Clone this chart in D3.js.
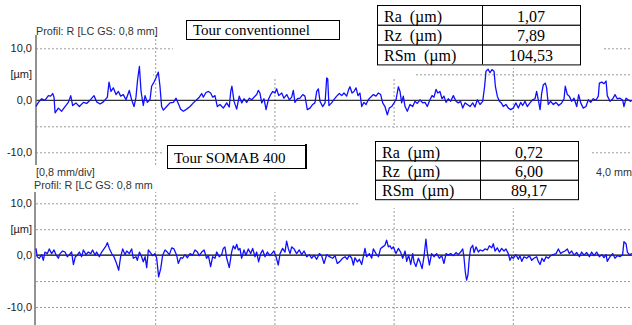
<!DOCTYPE html>
<html>
<head>
<meta charset="utf-8">
<script src="https://cdn.jsdelivr.net/npm/d3@7"></script>
<style>
  body { margin: 0; background: #fff; }
  svg { display: block; }
  .sans { font-family: "Liberation Sans", Arial, sans-serif; }
  .serif { font-family: "Liberation Serif", "Times New Roman", serif; }
</style>
</head>
<body>
<div id="chart"></div>
<script>
// roughness profiles, x in mm along the trace, y in µm
const profileConventionnel = [
  [0.000,-1.2],[0.016,-0.4],[0.038,0.3],[0.060,0.0],[0.083,0.9],[0.098,0.8],[0.112,1.3],[0.121,0.6],[0.128,-2.4],[0.150,-1.5],
  [0.172,-2.1],[0.195,-1.2],[0.217,-0.4],[0.233,0.9],[0.246,-1.0],[0.268,-0.5],[0.291,-1.2],[0.318,-0.4],[0.340,-0.6],[0.362,0.0],
  [0.389,0.9],[0.407,-0.3],[0.430,-0.7],[0.452,-0.3],[0.479,0.6],[0.490,3.5],[0.503,1.7],[0.519,2.4],[0.537,1.1],[0.553,1.7],
  [0.568,0.8],[0.586,1.1],[0.604,0.1],[0.626,1.9],[0.642,0.1],[0.658,-1.2],[0.671,0.6],[0.682,4.0],[0.694,6.5],[0.705,1.7],
  [0.720,-1.0],[0.732,0.9],[0.747,-0.4],[0.765,0.1],[0.776,2.7],[0.792,3.5],[0.805,4.3],[0.821,5.4],[0.832,2.7],[0.843,-1.2],
  [0.855,-1.9],[0.877,-1.2],[0.899,-0.5],[0.922,-0.4],[0.940,0.4],[0.955,-0.6],[0.971,-1.7],[0.989,-2.1],[1.011,-1.7],[1.034,-1.2],
  [1.056,-0.5],[1.078,0.1],[1.096,0.6],[1.112,1.3],[1.123,0.6],[1.141,1.5],[1.157,1.7],[1.172,1.4],[1.186,0.6],[1.201,0.9],
  [1.217,-1.2],[1.235,-0.8],[1.257,-1.5],[1.280,-0.5],[1.297,-1.3],[1.307,1.7],[1.315,2.7],[1.329,-0.2],[1.347,-1.7],[1.364,0.8],
  [1.381,-0.5],[1.396,0.3],[1.414,-0.4],[1.432,0.4],[1.448,0.1],[1.463,0.6],[1.481,1.1],[1.492,1.9],[1.503,1.4],[1.515,-0.5],
  [1.530,0.3],[1.544,-1.8],[1.559,0.1],[1.575,1.1],[1.589,1.7],[1.604,1.4],[1.615,2.2],[1.629,0.9],[1.649,1.4],[1.664,0.4],
  [1.683,1.1],[1.700,0.1],[1.716,0.6],[1.727,1.9],[1.738,-0.4],[1.754,0.3],[1.772,0.4],[1.790,1.1],[1.805,0.8],[1.821,-1.8],
  [1.839,-1.5],[1.857,-0.8],[1.872,-0.5],[1.884,1.7],[1.895,2.2],[1.906,-0.2],[1.924,-1.2],[1.940,-0.5],[1.951,4.3],[1.958,4.1],
  [1.966,-1.0],[1.984,-0.5],[1.995,0.0],[2.018,0.8],[2.036,1.3],[2.052,0.9],[2.067,1.4],[2.085,0.8],[2.099,2.1],[2.107,2.6],
  [2.121,1.4],[2.134,1.7],[2.148,2.4],[2.161,0.9],[2.174,1.4],[2.186,-1.2],[2.201,-0.4],[2.215,-0.8],[2.230,0.1],[2.246,0.6],
  [2.264,1.1],[2.282,0.8],[2.297,1.4],[2.313,1.1],[2.327,-0.5],[2.342,-1.2],[2.358,-2.8],[2.371,-1.5],[2.387,-1.2],[2.403,-0.5],
  [2.416,0.1],[2.432,2.6],[2.443,1.7],[2.454,-0.5],[2.465,0.8],[2.477,-1.2],[2.492,-2.1],[2.510,-0.8],[2.528,-1.2],[2.544,-0.2],
  [2.559,-0.6],[2.577,0.1],[2.595,-0.5],[2.611,-0.4],[2.626,-1.2],[2.644,0.1],[2.658,0.9],[2.671,0.6],[2.685,2.1],[2.696,1.4],
  [2.711,1.7],[2.725,0.3],[2.738,0.8],[2.752,-0.4],[2.767,0.3],[2.783,-0.2],[2.801,0.9],[2.819,-0.2],[2.834,-0.5],[2.850,-0.2],
  [2.864,-1.5],[2.879,-0.5],[2.895,-0.8],[2.913,-1.2],[2.931,-0.5],[2.946,-1.3],[2.962,0.1],[2.980,-0.8],[2.998,-0.2],[3.011,2.7],
  [3.020,5.6],[3.034,6.0],[3.047,5.3],[3.060,5.9],[3.074,5.6],[3.083,2.7],[3.096,0.8],[3.110,-0.2],[3.123,-0.5],[3.136,-1.2],
  [3.154,-0.8],[3.170,-1.5],[3.186,-1.8],[3.203,-1.5],[3.221,-0.5],[3.237,-1.5],[3.253,-0.4],[3.266,-1.0],[3.282,-0.2],[3.297,-1.2],
  [3.315,-0.5],[3.333,0.1],[3.349,0.3],[3.360,1.7],[3.371,0.1],[3.383,-1.8],[3.394,1.4],[3.405,3.0],[3.418,3.3],[3.427,2.4],
  [3.438,-0.8],[3.454,-0.2],[3.472,-0.8],[3.490,-0.4],[3.508,-1.0],[3.528,-0.5],[3.544,0.3],[3.552,2.7],[3.566,1.1],[3.579,0.8],
  [3.595,-0.2],[3.611,0.4],[3.629,-1.2],[3.642,1.1],[3.656,-0.5],[3.673,-1.5],[3.691,-1.2],[3.707,0.1],[3.723,-0.4],[3.740,0.3],
  [3.758,0.0],[3.774,0.8],[3.781,3.3],[3.797,3.5],[3.812,3.2],[3.826,3.7],[3.834,0.9],[3.852,-0.2],[3.871,0.3],[3.886,1.1],
  [3.901,0.3],[3.919,0.4],[3.938,0.0],[3.946,-1.2],[3.960,0.4],[3.975,0.1],[3.991,-0.2],[4.000,0.0]
];

const profileSomab = [
  [0.000,1.3],[0.008,-0.3],[0.022,-0.6],[0.038,0.1],[0.049,-1.0],[0.060,0.6],[0.076,0.3],[0.089,1.2],[0.105,0.3],[0.121,1.0],
  [0.134,0.1],[0.150,-0.6],[0.161,0.3],[0.179,0.8],[0.195,0.6],[0.210,-0.3],[0.224,0.1],[0.239,0.6],[0.251,-1.8],[0.264,-0.3],
  [0.277,0.0],[0.291,0.6],[0.306,-0.3],[0.318,1.0],[0.336,0.1],[0.351,0.6],[0.367,0.3],[0.380,1.0],[0.396,0.0],[0.407,0.6],
  [0.425,-0.3],[0.441,0.6],[0.456,1.2],[0.470,1.8],[0.479,2.4],[0.492,1.3],[0.508,0.3],[0.523,-0.3],[0.537,-1.3],[0.555,-2.9],
  [0.568,-0.3],[0.582,1.2],[0.597,0.1],[0.609,0.8],[0.626,0.3],[0.642,1.2],[0.653,-0.6],[0.671,-0.3],[0.680,-1.0],[0.694,0.6],
  [0.709,-0.3],[0.720,-1.3],[0.732,-0.3],[0.743,-2.4],[0.754,1.0],[0.765,0.6],[0.783,-0.1],[0.799,0.3],[0.810,-0.6],[0.823,-4.2],
  [0.837,-2.6],[0.850,0.0],[0.866,1.0],[0.881,0.6],[0.895,0.1],[0.911,1.4],[0.926,1.2],[0.944,0.0],[0.955,-1.6],[0.971,-0.5],
  [0.984,-0.6],[1.000,0.1],[1.016,-0.5],[1.034,0.3],[1.051,0.0],[1.067,1.0],[1.083,0.6],[1.096,-0.1],[1.112,0.6],[1.128,1.0],
  [1.145,-0.6],[1.157,-0.1],[1.172,-2.2],[1.186,-0.3],[1.201,-0.6],[1.213,0.6],[1.230,-0.3],[1.246,0.1],[1.257,1.3],[1.268,1.6],
  [1.280,-0.6],[1.297,-2.4],[1.313,0.6],[1.324,1.8],[1.336,1.2],[1.347,2.1],[1.358,1.0],[1.369,1.3],[1.380,-0.6],[1.396,1.0],
  [1.409,0.0],[1.425,1.2],[1.441,0.3],[1.454,1.3],[1.470,-0.3],[1.481,0.6],[1.494,-1.3],[1.508,0.3],[1.521,1.0],[1.537,-0.3],
  [1.553,0.6],[1.570,-0.1],[1.582,0.3],[1.597,0.8],[1.611,-0.3],[1.626,-1.9],[1.638,0.3],[1.655,1.3],[1.671,0.6],[1.682,2.7],
  [1.694,1.2],[1.705,0.3],[1.716,1.6],[1.732,1.2],[1.749,0.3],[1.767,1.0],[1.783,0.1],[1.799,0.8],[1.817,-0.3],[1.834,0.1],
  [1.850,-0.6],[1.866,0.0],[1.884,-0.8],[1.902,0.3],[1.917,-0.1],[1.933,-1.6],[1.951,0.1],[1.969,-0.3],[1.991,-0.6],[2.007,-0.1],
  [2.022,-1.6],[2.040,-1.2],[2.058,-0.6],[2.074,-0.3],[2.089,-0.8],[2.103,0.0],[2.119,-0.6],[2.130,-1.9],[2.141,-0.5],[2.157,-1.3],
  [2.170,-0.8],[2.186,-1.8],[2.197,-0.3],[2.208,1.3],[2.219,-0.3],[2.237,0.3],[2.253,-0.6],[2.264,1.2],[2.282,0.3],[2.298,-0.3],
  [2.313,1.3],[2.327,1.6],[2.342,1.9],[2.353,2.9],[2.365,1.6],[2.376,1.8],[2.387,1.2],[2.398,1.6],[2.416,0.3],[2.432,1.3],
  [2.447,0.6],[2.461,-0.6],[2.477,0.8],[2.488,-1.2],[2.501,0.0],[2.515,-1.8],[2.528,0.3],[2.537,-1.3],[2.550,-2.2],[2.566,-0.6],
  [2.577,-1.3],[2.591,-2.6],[2.604,-0.3],[2.617,3.1],[2.626,0.6],[2.640,-1.9],[2.655,0.3],[2.671,-0.3],[2.689,0.3],[2.707,-0.6],
  [2.723,-0.1],[2.738,-1.6],[2.752,0.3],[2.767,0.0],[2.783,0.3],[2.801,-0.1],[2.819,0.5],[2.834,0.1],[2.850,0.6],[2.864,1.2],
  [2.872,-0.3],[2.881,-3.2],[2.890,-4.8],[2.899,-3.8],[2.908,-0.6],[2.917,1.3],[2.931,1.9],[2.940,0.5],[2.953,1.6],[2.969,0.6],
  [2.980,1.0],[2.998,0.8],[3.013,1.2],[3.029,1.0],[3.043,1.8],[3.058,1.4],[3.069,2.2],[3.081,0.8],[3.096,1.4],[3.110,0.6],
  [3.125,1.3],[3.141,0.8],[3.154,1.2],[3.170,0.3],[3.181,-1.0],[3.192,-0.3],[3.203,-0.6],[3.221,0.1],[3.237,-0.8],[3.248,-0.1],
  [3.260,-1.2],[3.275,-0.3],[3.293,-0.6],[3.311,-0.1],[3.327,-1.0],[3.342,-0.6],[3.360,-0.3],[3.371,-1.2],[3.383,-1.8],[3.396,-0.6],
  [3.409,-1.2],[3.423,-0.3],[3.438,-0.6],[3.454,-0.1],[3.472,0.1],[3.490,0.3],[3.506,1.2],[3.521,0.3],[3.535,0.6],[3.550,0.8],
  [3.566,1.2],[3.579,0.3],[3.595,0.8],[3.611,0.0],[3.629,0.5],[3.647,-0.3],[3.662,0.6],[3.678,0.0],[3.696,0.5],[3.714,-0.3],
  [3.729,0.6],[3.745,-0.1],[3.763,0.6],[3.781,-0.3],[3.797,0.1],[3.812,-0.5],[3.826,0.1],[3.834,-1.2],[3.852,-0.3],[3.870,0.3],
  [3.886,-0.6],[3.902,-0.1],[3.919,-0.3],[3.937,0.1],[3.946,2.6],[3.960,2.2],[3.969,0.6],[3.982,0.1],[4.000,0.3]
];

const yTickValues = [10, 5, 0, -10];
const yTickLabels = ["10,0", "[µm]", "0,0", "-10,0"];
const yGridValues = [10, 5, -5, -10];
const xGridValues = [0.8, 1.6, 2.4, 3.2];
const tableLabels = ["Ra  (µm)", "Rz  (µm)", "RSm  (µm)"];
const valuesConventionnel = ["1,07", "7,89", "104,53"];
const valuesSomab = ["0,72", "6,00", "89,17"];

const width = 632, height = 325;
const left = 36, right = 632;

const svg = d3
  .select("#chart")
  .append("svg")
  .attr("width", width)
  .attr("height", height);

svg.append("rect").attr("width", width).attr("height", height).attr("fill", "#fff");

const x = d3.scaleLinear().domain([0, 4]).range([left, right]);

// two stacked panels: plot top/bottom and where -10 / +10 land
const panels = [
  { data: profileConventionnel, top: 35, bottom: 165, y0: 152.3, y1: 48.3, axisX: 36, zeroColor: "#333" },
  { data: profileSomab, top: 192, bottom: 325, y0: 307, y1: 203.3, axisX: 35, zeroColor: "#000" }
];

// white areas behind the text boxes and tables, they hide the grid
const masks = [
  [173, 0, 243, 78], [37, 72, 116, 6], [157, 72, 16, 6],
  [377, 0, 226, 68],
  [358, 128, 234, 80], [580, 160, 52, 48],
  [163, 142, 195, 48]
];

const layers = panels.map(p => {
  const y = d3.scaleLinear().domain([-10, 10]).range([p.y0, p.y1]);
  const g = svg.append("g");

  // horizontal grid
  g.append("g")
    .attr("transform", "translate(" + left + ",0)")
    .call(d3.axisLeft(y).tickValues(yGridValues).tickSize(-(right - left)).tickFormat(""))
    .call(s => s.select(".domain").remove())
    .selectAll("line")
    .attr("stroke", "#9a9a9a")
    .attr("stroke-dasharray", "2,2");

  // vertical grid
  g.append("g")
    .attr("transform", "translate(0," + p.bottom + ")")
    .call(d3.axisBottom(x).tickValues(xGridValues).tickSize(-(p.bottom - p.top)).tickFormat(""))
    .call(s => s.select(".domain").remove())
    .selectAll("line")
    .attr("stroke", "#9a9a9a")
    .attr("stroke-dasharray", "2,2");

  return { p, y };
});

svg
  .selectAll(".mask")
  .data(masks)
  .enter()
  .append("rect")
  .attr("class", "mask")
  .attr("x", d => d[0])
  .attr("y", d => d[1])
  .attr("width", d => d[2])
  .attr("height", d => d[3])
  .attr("fill", "#fff");

const line = y => d3.line().x(d => x(d[0])).y(d => y(d[1]));

layers.forEach(({ p, y }) => {
  const g = svg.append("g");

  // zero line
  g.append("line")
    .attr("x1", left)
    .attr("x2", right)
    .attr("y1", y(0))
    .attr("y2", y(0))
    .attr("stroke", p.zeroColor)
    .attr("stroke-width", 1.2);

  // axis line
  g.append("line")
    .attr("x1", p.axisX)
    .attr("x2", p.axisX)
    .attr("y1", p.top)
    .attr("y2", p.bottom)
    .attr("stroke", "#777")
    .attr("stroke-width", 1.6);

  g.append("path")
    .datum(p.data)
    .attr("fill", "none")
    .attr("stroke", "#1010ff")
    .attr("stroke-width", 1.3)
    .attr("stroke-linejoin", "round")
    .attr("d", line(y));

  g.append("g")
    .attr("class", "sans")
    .attr("transform", "translate(" + left + ",0)")
    .call(d3.axisLeft(y).tickValues(yTickValues).tickSize(0).tickPadding(4)
      .tickFormat((d, i) => yTickLabels[i]))
    .call(s => s.select(".domain").remove())
    .selectAll("text")
    .attr("fill", "#222")
    .style("font-size", "11px");
});

// small labels
const labels = [
  { t: "Profil: R [LC GS: 0,8 mm]", x: 36, y: 35 },
  { t: "[0,8 mm/div]", x: 36, y: 176 },
  { t: "4,0 mm", x: 596, y: 175.5 },
  { t: "Profil: R [LC GS: 0,8 mm", x: 34, y: 189 }
];
svg
  .selectAll(".lbl")
  .data(labels)
  .enter()
  .append("text")
  .attr("class", "lbl sans")
  .attr("x", d => d.x)
  .attr("y", d => d.y)
  .attr("fill", "#333")
  .style("font-size", "10.8px")
  .text(d => d.t);

// title boxes
function titleBox(text, bx, by, bw, bh, tx, ty) {
  svg.append("rect")
    .attr("x", bx + 0.5).attr("y", by + 0.5)
    .attr("width", bw).attr("height", bh)
    .attr("fill", "#fff").attr("stroke", "#000");
  svg.append("text")
    .attr("class", "serif")
    .attr("x", tx).attr("y", ty)
    .style("font-size", "15px")
    .attr("fill", "#000")
    .text(text);
}
titleBox("Tour conventionnel", 186, 20, 153, 19, 193, 35);
titleBox("Tour SOMAB 400", 167, 145, 139, 23, 174, 162.5);
svg.append("line")
  .attr("x1", 306).attr("x2", 306).attr("y1", 144).attr("y2", 168.5)
  .attr("stroke", "#000").attr("stroke-width", 2);

// parameter tables
function paramTable(values, tx, ty, col, tw, rh) {
  const g = svg.append("g").attr("class", "serif");
  g.selectAll("rect")
    .data(values)
    .enter()
    .append("rect")
    .attr("x", tx + 0.5)
    .attr("y", (d, i) => ty + i * rh + 0.5)
    .attr("width", tw)
    .attr("height", rh)
    .attr("fill", "#fff")
    .attr("stroke", "#000");
  g.append("line")
    .attr("x1", col + 0.5).attr("x2", col + 0.5)
    .attr("y1", ty).attr("y2", ty + rh * values.length)
    .attr("stroke", "#000");
  g.selectAll(".lab")
    .data(tableLabels)
    .enter()
    .append("text")
    .attr("x", tx + 7)
    .attr("y", (d, i) => ty + i * rh + 16.6)
    .style("font-size", "16px")
    .style("white-space", "pre")
    .text(d => d);
  g.selectAll(".val")
    .data(values)
    .enter()
    .append("text")
    .attr("x", (col + tx + tw) / 2)
    .attr("y", (d, i) => ty + i * rh + 16.6)
    .attr("text-anchor", "middle")
    .style("font-size", "16px")
    .text(d => d);
}
paramTable(valuesConventionnel, 377, 5, 482, 203, 19.8);
paramTable(valuesSomab, 375, 141, 480, 203, 19.4);
</script>
</body>
</html>
